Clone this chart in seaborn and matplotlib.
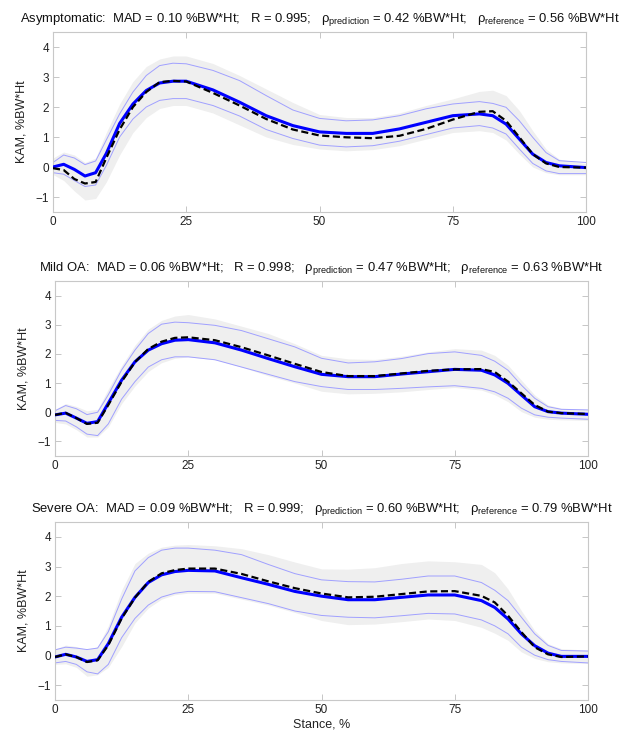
import matplotlib
matplotlib.use("Agg")
import matplotlib.pyplot as plt
import seaborn as sns

# stance (% of stance phase) at which values were read
stance = [0, 2, 4, 6, 8, 10, 12.5, 15, 17.5, 20, 22.5, 25, 30, 35, 40, 45,
          50, 55, 60, 65, 70, 75, 80, 82.5, 85, 87.5, 90, 92.5, 95, 100]

groups = ["Asymptomatic", "Mild OA", "Severe OA"]
mad = ["0.10", "0.06", "0.09"]
r_val = ["0.995", "0.998", "0.999"]
rho_pred = ["0.42", "0.47", "0.60"]
rho_ref = ["0.56", "0.63", "0.79"]

# Asymptomatic
asym_pred = [0.0, 0.09, -0.08, -0.3, -0.19, 0.45, 1.45, 2.1, 2.55, 2.8, 2.86, 2.86, 2.57, 2.16, 1.71, 1.38,
             1.17, 1.12, 1.12, 1.27, 1.49, 1.71, 1.77, 1.71, 1.43, 0.93, 0.43, 0.15, 0.04, -0.02]
asym_ref = [-0.04, -0.1, -0.4, -0.55, -0.5, 0.3, 1.25, 2.0, 2.5, 2.83, 2.87, 2.85, 2.47, 2.05, 1.6, 1.25,
            1.05, 0.99, 0.96, 1.04, 1.27, 1.58, 1.84, 1.86, 1.54, 0.99, 0.43, 0.12, 0.0, -0.02]
asym_pred_hi = [0.15, 0.4, 0.3, 0.08, 0.2, 0.9, 1.77, 2.5, 3.05, 3.38, 3.46, 3.44, 3.22, 2.88, 2.38, 1.9,
                1.62, 1.54, 1.57, 1.71, 1.94, 2.1, 2.18, 2.12, 1.99, 1.54, 0.99, 0.48, 0.21, 0.15]
asym_pred_lo = [-0.19, -0.24, -0.45, -0.65, -0.6, 0.05, 1.0, 1.6, 2.0, 2.22, 2.28, 2.28, 2.05, 1.7, 1.25, 0.95,
                0.73, 0.67, 0.71, 0.86, 1.08, 1.3, 1.38, 1.3, 1.1, 0.6, 0.12, -0.13, -0.22, -0.22]
asym_ref_hi = [0.3, 0.5, 0.4, 0.15, 0.3, 1.15, 2.1, 2.85, 3.35, 3.6, 3.7, 3.7, 3.45, 3.05, 2.6, 2.15,
               1.75, 1.65, 1.65, 1.8, 2.05, 2.27, 2.52, 2.56, 2.38, 1.88, 1.21, 0.6, 0.26, 0.11]
asym_ref_lo = [-0.25, -0.45, -0.8, -1.1, -1.05, -0.5, 0.4, 1.15, 1.65, 1.95, 2.05, 2.05, 1.8, 1.4, 1.0, 0.75,
               0.6, 0.54, 0.58, 0.71, 0.93, 1.15, 1.21, 1.15, 0.9, 0.43, 0.0, -0.19, -0.26, -0.26]

# Mild OA
mild_pred = [-0.09, -0.03, -0.2, -0.38, -0.32, 0.31, 1.1, 1.73, 2.13, 2.35, 2.47, 2.49, 2.38, 2.13, 1.84, 1.56,
             1.3, 1.22, 1.22, 1.31, 1.39, 1.47, 1.44, 1.28, 0.99, 0.59, 0.19, 0.02, -0.03, -0.07]
mild_ref = [-0.09, -0.02, -0.2, -0.4, -0.36, 0.25, 1.05, 1.72, 2.17, 2.42, 2.55, 2.57, 2.47, 2.23, 1.95, 1.66,
            1.38, 1.24, 1.24, 1.33, 1.42, 1.47, 1.48, 1.38, 1.05, 0.65, 0.25, 0.02, -0.03, -0.06]
mild_pred_hi = [0.05, 0.23, 0.12, -0.08, 0.0, 0.6, 1.45, 2.13, 2.7, 3.02, 3.09, 3.07, 2.98, 2.8, 2.52, 2.24,
                1.85, 1.69, 1.73, 1.84, 2.01, 2.07, 1.95, 1.75, 1.44, 0.93, 0.48, 0.19, 0.1, 0.08]
mild_pred_lo = [-0.28, -0.3, -0.5, -0.75, -0.8, -0.4, 0.45, 1.05, 1.55, 1.8, 1.9, 1.9, 1.8, 1.55, 1.3, 1.05,
                0.88, 0.78, 0.78, 0.82, 0.87, 0.91, 0.82, 0.7, 0.48, 0.14, -0.09, -0.17, -0.2, -0.24]
mild_ref_hi = [0.1, 0.3, 0.2, 0.05, 0.1, 0.8, 1.6, 2.3, 2.85, 3.15, 3.3, 3.35, 3.2, 2.95, 2.7, 2.35,
               1.95, 1.83, 1.81, 1.92, 2.07, 2.18, 2.13, 1.95, 1.61, 1.1, 0.59, 0.25, 0.14, 0.1]
mild_ref_lo = [-0.35, -0.4, -0.6, -0.85, -0.85, -0.5, 0.3, 0.9, 1.4, 1.7, 1.85, 1.9, 1.8, 1.55, 1.25, 1.0,
               0.72, 0.63, 0.65, 0.7, 0.78, 0.85, 0.76, 0.6, 0.36, 0.02, -0.17, -0.24, -0.26, -0.28]

# Severe OA
sev_pred = [-0.05, 0.04, -0.05, -0.2, -0.14, 0.4, 1.29, 1.96, 2.46, 2.72, 2.83, 2.87, 2.85, 2.62, 2.4, 2.16,
            2.0, 1.88, 1.88, 1.96, 2.04, 2.04, 1.85, 1.62, 1.23, 0.73, 0.33, 0.08, -0.03, -0.03]
sev_ref = [-0.05, 0.04, -0.05, -0.22, -0.16, 0.35, 1.25, 1.95, 2.48, 2.77, 2.88, 2.93, 2.93, 2.75, 2.5, 2.27,
           2.09, 1.96, 1.98, 2.07, 2.16, 2.17, 2.01, 1.79, 1.34, 0.79, 0.28, 0.04, -0.05, -0.03]
sev_pred_hi = [0.19, 0.28, 0.25, 0.2, 0.25, 0.8, 1.9, 2.85, 3.3, 3.55, 3.62, 3.62, 3.55, 3.4, 3.07, 2.76,
               2.55, 2.49, 2.48, 2.57, 2.68, 2.68, 2.46, 2.2, 1.85, 1.29, 0.73, 0.34, 0.17, 0.15]
sev_pred_lo = [-0.25, -0.2, -0.3, -0.55, -0.62, -0.3, 0.6, 1.25, 1.7, 1.97, 2.1, 2.16, 2.15, 1.95, 1.75, 1.5,
               1.35, 1.29, 1.27, 1.34, 1.42, 1.4, 1.2, 1.0, 0.73, 0.28, 0.01, -0.14, -0.2, -0.25]
sev_ref_hi = [0.22, 0.35, 0.3, 0.2, 0.3, 1.0, 2.2, 3.1, 3.45, 3.65, 3.72, 3.74, 3.7, 3.6, 3.4, 3.15,
              2.92, 2.91, 2.96, 3.1, 3.19, 3.16, 3.07, 2.79, 2.24, 1.51, 0.84, 0.4, 0.23, 0.18]
sev_ref_lo = [-0.3, -0.28, -0.4, -0.7, -0.65, -0.4, 0.3, 1.1, 1.6, 1.9, 2.05, 2.1, 2.1, 1.9, 1.7, 1.45,
              1.18, 1.04, 1.06, 1.14, 1.23, 1.18, 0.95, 0.75, 0.51, 0.12, -0.1, -0.21, -0.25, -0.27]

panels = [
    (asym_pred, asym_ref, asym_pred_hi, asym_pred_lo, asym_ref_hi, asym_ref_lo),
    (mild_pred, mild_ref, mild_pred_hi, mild_pred_lo, mild_ref_hi, mild_ref_lo),
    (sev_pred, sev_ref, sev_pred_hi, sev_pred_lo, sev_ref_hi, sev_ref_lo),
]

# axes boxes in pixels (left, top, right, bottom) of the 621x736 figure
W, H = 621, 736
boxes = [(53, 32, 586, 212), (55, 281, 588, 456), (55, 522, 588, 700)]

sns.set_theme(style="white")
plt.rcParams["font.family"] = ["Liberation Sans", "DejaVu Sans"]
plt.rcParams["mathtext.fontset"] = "custom"
plt.rcParams["mathtext.rm"] = "Liberation Sans"
plt.rcParams["mathtext.it"] = "Liberation Sans:italic"

fig = plt.figure(figsize=(W / 100, H / 100), dpi=100)

for i, (pred, ref, p_hi, p_lo, r_hi, r_lo) in enumerate(panels):
    l, t, r, b = boxes[i]
    ax = fig.add_axes([l / W, 1 - b / H, (r - l) / W, (b - t) / H])

    # reference mean +/- SD as grey band, prediction +/- SD as thin blue lines
    ax.fill_between(stance, r_lo, r_hi, color="#efefef", lw=0, zorder=1)
    sns.lineplot(x=stance, y=p_hi, ax=ax, color="#a0a0ff", lw=0.7, zorder=2)
    sns.lineplot(x=stance, y=p_lo, ax=ax, color="#a0a0ff", lw=0.7, zorder=2)
    sns.lineplot(x=stance, y=pred, ax=ax, color="#0000ff", lw=2.2, zorder=3)
    sns.lineplot(x=stance, y=ref, ax=ax, color="black", lw=1.6, zorder=4,
                 linestyle=(0, (3.2, 1.6)))

    ax.set_xlim(0, 100)
    ax.set_ylim(-1.5, 4.5)
    ax.set_xticks([0, 25, 50, 75, 100])
    ax.set_yticks([-1, 0, 1, 2, 3, 4])
    ax.tick_params(direction="in", length=4, width=0.6, color="#bdbdbd",
                   labelsize=8.5, labelcolor="#222222", top=True, right=True,
                   bottom=True, left=True, pad=3)
    for s in ax.spines.values():
        s.set_color("#c8c8c8")
        s.set_linewidth(0.8)
    ax.set_ylabel("KAM, %BW*Ht", fontsize=9, color="#222222", labelpad=6)
    ax.set_xlabel("")

    title = (f"{groups[i]}:  MAD = {mad[i]} %BW*Ht;   R = {r_val[i]};   "
             r"$\mathrm{\rho_{prediction}}$" f" = {rho_pred[i]} %BW*Ht;   "
             r"$\mathrm{\rho_{reference}}$" f" = {rho_ref[i]} %BW*Ht")
    ax.set_title(title, fontsize=9.4, color="#111111", pad=7)

    if i == 2:
        ax.set_xlabel("Stance, %", fontsize=9, color="#222222", labelpad=2)

fig.savefig("out.png", dpi=100)
